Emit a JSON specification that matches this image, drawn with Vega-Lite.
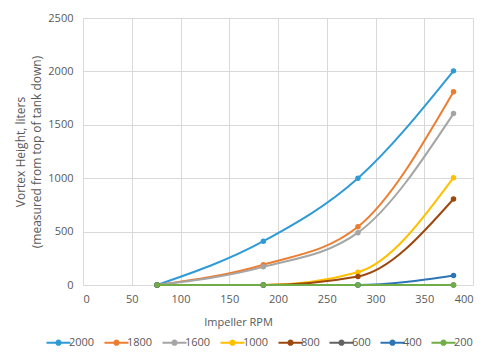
{
  "$schema": "https://vega.github.io/schema/vega-lite/v6.json",
  "width": 390,
  "height": 267,
  "autosize": {"type": "none"},
  "padding": {"left": 83, "top": 18, "right": 22, "bottom": 71},
  "background": "white",
  "config": {
    "font": "Open Sans",
    "view": {"stroke": null},
    "axis": {"labelColor": "#595959", "titleColor": "#595959", "labelFontSize": 11, "titleFontSize": 11, "titleFontWeight": "normal", "gridColor": "#d9d9d9", "domain": false, "ticks": false, "format": "d"}
  },
  "data": {
    "values": [
      {"rpm": 76, "v": 0, "s": "2000"}, {"rpm": 185, "v": 410, "s": "2000"}, {"rpm": 282, "v": 1000, "s": "2000"}, {"rpm": 380, "v": 2005, "s": "2000"},
      {"rpm": 76, "v": 0, "s": "1800"}, {"rpm": 185, "v": 190, "s": "1800"}, {"rpm": 282, "v": 545, "s": "1800"}, {"rpm": 380, "v": 1810, "s": "1800"},
      {"rpm": 76, "v": 0, "s": "1600"}, {"rpm": 185, "v": 170, "s": "1600"}, {"rpm": 282, "v": 490, "s": "1600"}, {"rpm": 380, "v": 1605, "s": "1600"},
      {"rpm": 76, "v": 0, "s": "1000"}, {"rpm": 185, "v": 0, "s": "1000"}, {"rpm": 282, "v": 120, "s": "1000"}, {"rpm": 380, "v": 1005, "s": "1000"},
      {"rpm": 76, "v": 0, "s": "800"}, {"rpm": 185, "v": 0, "s": "800"}, {"rpm": 282, "v": 80, "s": "800"}, {"rpm": 380, "v": 805, "s": "800"},
      {"rpm": 76, "v": 0, "s": "600"}, {"rpm": 185, "v": 0, "s": "600"}, {"rpm": 282, "v": 0, "s": "600"}, {"rpm": 380, "v": 0, "s": "600"},
      {"rpm": 76, "v": 0, "s": "400"}, {"rpm": 185, "v": 0, "s": "400"}, {"rpm": 282, "v": 0, "s": "400"}, {"rpm": 380, "v": 90, "s": "400"},
      {"rpm": 76, "v": 0, "s": "200"}, {"rpm": 185, "v": 0, "s": "200"}, {"rpm": 282, "v": 0, "s": "200"}, {"rpm": 380, "v": 0, "s": "200"}
    ]
  },
  "encoding": {
    "x": {"field": "rpm", "type": "quantitative", "title": "Impeller RPM", "scale": {"domain": [0, 400], "nice": false}, "axis": {"values": [0,50,100,150,200,250,300,350,400], "labelPadding": 8, "titlePadding": 12, "titleX": 155, "titleAlign": "center"}},
    "y": {"field": "v", "type": "quantitative", "title": ["Vortex Height, liters", "(measured from top of tank down)"], "scale": {"domain": [0, 2500], "nice": false}, "axis": {"values": [0,500,1000,1500,2000,2500], "labelPadding": 10, "titlePadding": 4, "titleFontSize": 12, "titleLineHeight": 16}},
    "color": {"field": "s", "type": "nominal", "sort": null,
      "scale": {"domain": ["2000","1800","1600","1000","800","600","400","200"], "range": ["#2f9bd6","#ed7d31","#a5a5a5","#ffc000","#9e480e","#636363","#2e75b6","#70ad47"]},
      "legend": {"title": null, "orient": "none", "legendX": -33, "legendY": 316, "direction": "horizontal", "columns": 8, "symbolType": "M-1.7,0L1.7,0M-0.3,0A0.3,0.3 0 1,0 0.3,0A0.3,0.3 0 1,0 -0.3,0", "symbolSize": 200, "symbolStrokeWidth": 2, "labelFontSize": 11, "labelColor": "#595959", "columnPadding": 5, "labelOffset": 2}}
  },
  "layer": [
    {"mark": {"type": "line", "interpolate": "monotone", "strokeWidth": 2}},
    {"mark": {"type": "point", "filled": true, "size": 30, "opacity": 1}}
  ]
}
